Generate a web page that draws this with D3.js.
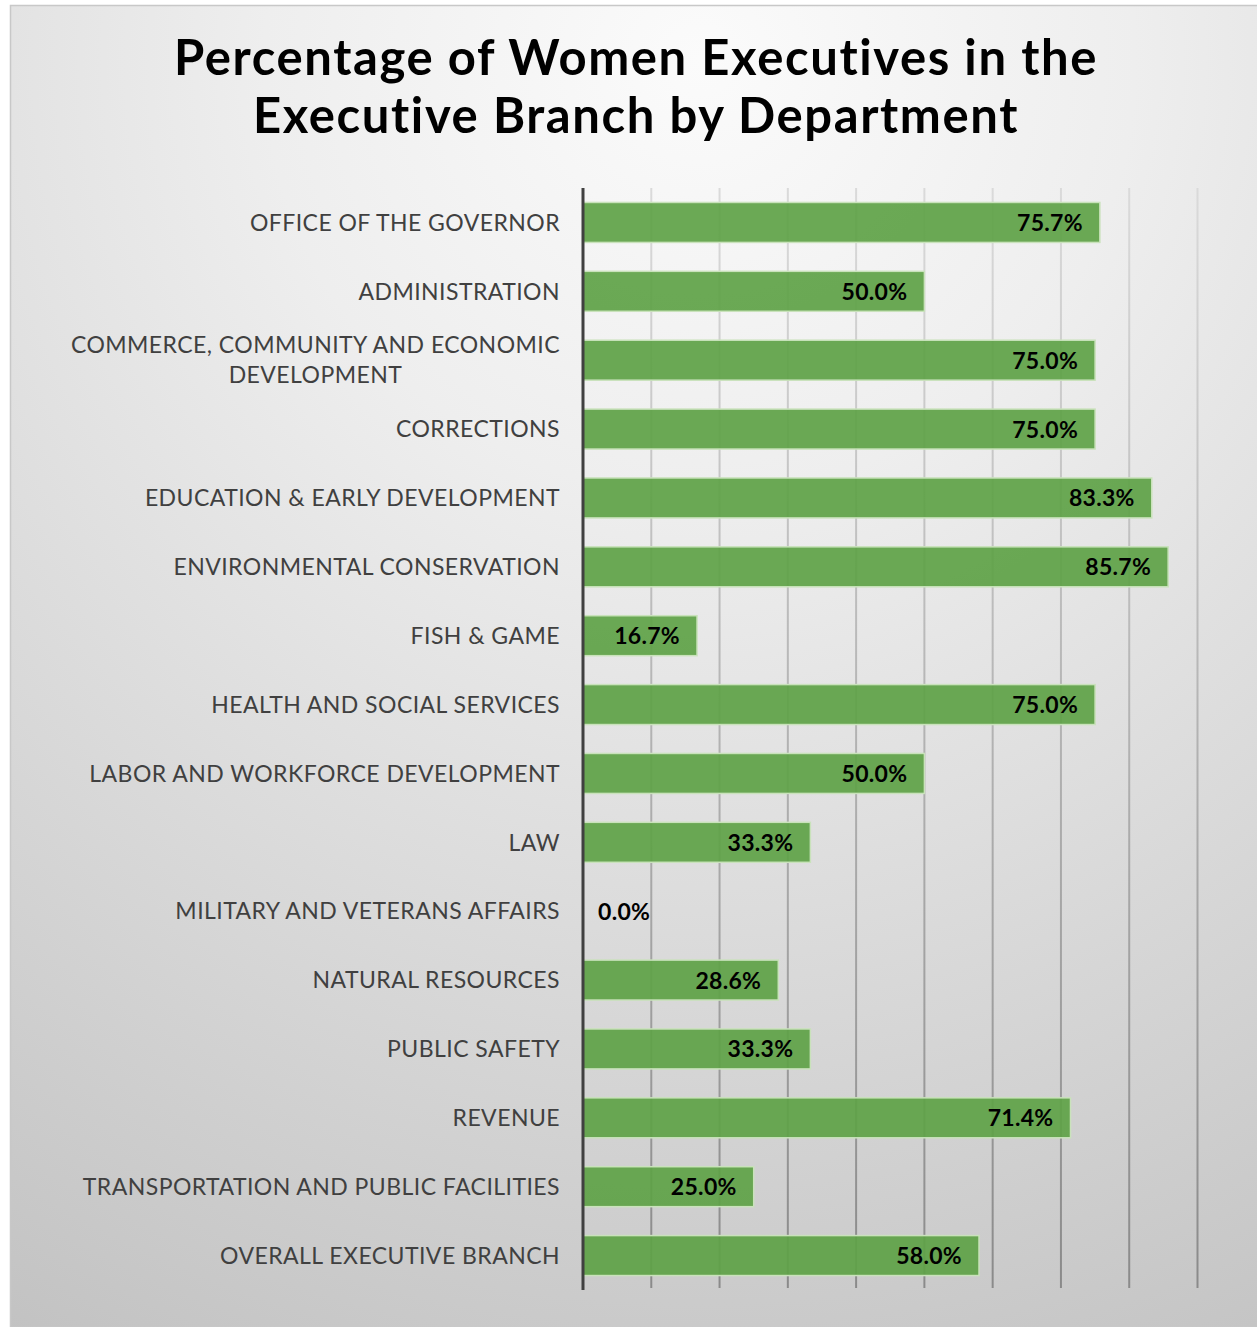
<!DOCTYPE html>
<html><head><meta charset="utf-8">
<script src="https://cdn.jsdelivr.net/npm/d3@7"></script>
<style>body{margin:0;background:#fff}svg{display:block}</style>
</head><body>
<script>
const titleLines = ["Percentage of Women Executives in the", "Executive Branch by Department"];
const categories = [
  "OFFICE OF THE GOVERNOR",
  "ADMINISTRATION",
  "COMMERCE, COMMUNITY AND ECONOMIC|DEVELOPMENT",
  "CORRECTIONS",
  "EDUCATION & EARLY DEVELOPMENT",
  "ENVIRONMENTAL CONSERVATION",
  "FISH & GAME",
  "HEALTH AND SOCIAL SERVICES",
  "LABOR AND WORKFORCE DEVELOPMENT",
  "LAW",
  "MILITARY AND VETERANS AFFAIRS",
  "NATURAL RESOURCES",
  "PUBLIC SAFETY",
  "REVENUE",
  "TRANSPORTATION AND PUBLIC FACILITIES",
  "OVERALL EXECUTIVE BRANCH"
];
const values = [0.757, 0.500, 0.750, 0.750, 0.833, 0.857, 0.167, 0.750, 0.500, 0.333, 0.000, 0.286, 0.333, 0.714, 0.250, 0.580];
const xMax = 0.9;

const W = 1257, H = 1327;
const svg = d3.select("body").append("svg").attr("width", W).attr("height", H);
const defs = svg.append("defs");
const bg = defs.append("radialGradient").attr("id","bg").attr("gradientUnits","userSpaceOnUse")
  .attr("cx",700).attr("cy",60).attr("r",1450).attr("fx",700).attr("fy",60);
bg.append("stop").attr("offset","0").attr("stop-color","#fbfbfb");
bg.append("stop").attr("offset","0.3").attr("stop-color","#eeeeee");
bg.append("stop").attr("offset","1").attr("stop-color","#c2c2c2");
const gg = defs.append("linearGradient").attr("id","grid").attr("gradientUnits","userSpaceOnUse")
  .attr("x1",0).attr("y1",188).attr("x2",0).attr("y2",1290);
gg.append("stop").attr("offset","0").attr("stop-color","#dadada");
gg.append("stop").attr("offset","1").attr("stop-color","#8a8a8a");

svg.append("rect").attr("x",10.5).attr("y",5.5).attr("width",1262).attr("height",1322)
  .attr("fill","url(#bg)").attr("stroke","#c8c8c8").attr("stroke-width",1.5);

const title = svg.append("text").attr("text-anchor","middle")
  .attr("font-family","Lato, 'Noto Sans', sans-serif").attr("font-weight",700)
  .attr("font-size",49).attr("letter-spacing",1.6).attr("fill","#000");
title.selectAll("tspan").data(titleLines).join("tspan")
  .attr("x",636).attr("y",(d,i)=>75+i*58).text(d=>d);

const x = d3.scaleLinear().domain([0, xMax]).range([583, 1197.5]);
const y = d3.scaleBand().domain(categories).range([188, 1290]).paddingInner(0.42).paddingOuter(0.21);

// gridlines
svg.append("g").selectAll("line").data(x.ticks(9).filter(t=>t>0)).join("line")
  .attr("x1",d=>x(d)).attr("x2",d=>x(d)).attr("y1",188).attr("y2",1288)
  .attr("stroke","url(#grid)").attr("stroke-width",2);

// bars
svg.append("g").selectAll("rect").data(values).join("rect")
  .attr("x",x(0)).attr("y",(d,i)=>y(categories[i]))
  .attr("width",d=>x(d)-x(0)).attr("height",y.bandwidth())
  .attr("fill","#5ea246").attr("fill-opacity",0.92)
  .attr("stroke",d=>d>0?"#c9e2bb":"none").attr("stroke-width",1.5);

// axis line
svg.append("line").attr("x1",x(0)).attr("x2",x(0)).attr("y1",188).attr("y2",1290)
  .attr("stroke","#404040").attr("stroke-width",3);

// value labels
svg.append("g").selectAll("text").data(values).join("text")
  .attr("x",d=>d>0? x(d)-17 : x(0)+15)
  .attr("text-anchor",d=>d>0?"end":"start")
  .attr("y",(d,i)=>y(categories[i])+y.bandwidth()/2)
  .attr("dy","0.37em")
  .attr("font-family","Lato, 'Noto Sans', sans-serif").attr("font-weight",700)
  .attr("font-size",23).attr("letter-spacing",0.3).attr("fill","#000")
  .text(d=>(d*100).toFixed(1)+"%");

// category labels
const lg = svg.append("g").attr("font-family","Lato, 'Noto Sans', sans-serif")
  .attr("font-size",23).attr("letter-spacing",0.45).attr("fill","#404040");
categories.forEach((c,i)=>{
  const lines = c.split("|");
  const cy = y(c)+y.bandwidth()/2;
  if(lines.length===1){
    lg.append("text").attr("x",560).attr("y",cy).attr("dy","0.36em")
      .attr("text-anchor","end").text(c);
  } else {
    const t1 = lg.append("text").attr("x",560).attr("y",cy-15).attr("dy","0.36em")
      .attr("text-anchor","end").text(lines[0]);
    const w = t1.node().getComputedTextLength();
    lg.append("text").attr("x",560-w/2).attr("y",cy+15).attr("dy","0.36em")
      .attr("text-anchor","middle").text(lines[1]);
  }
});
</script>
</body></html>
